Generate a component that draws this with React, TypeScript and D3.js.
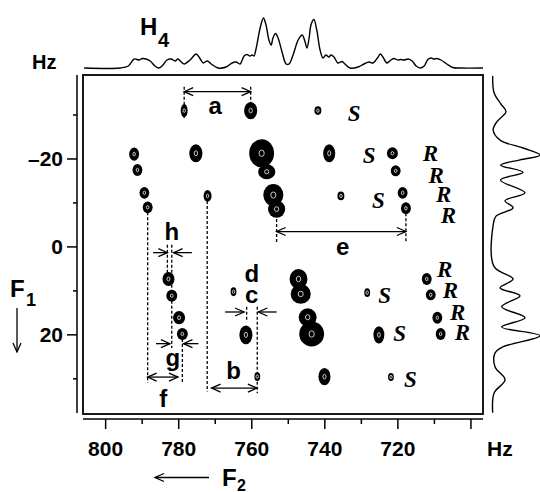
import React from 'react';
import * as d3 from 'd3';

// ---------- data ----------
const xMajorTicks = [800, 780, 760, 740, 720, 700];
const xMinorTicks = [790, 770, 750, 730, 710];
const xTickLabels = ['800', '780', '760', '740', '720', ''];
const yMajorTicks = [-20, 0, 20];
const yMinorTicks = [-30, -10, 10, 30];
const yTickLabels = ['\u201320', '0', '20'];

// 2D cross peaks: F2 (Hz), F1 (Hz), linewidths in Hz
const peakF2 = [778.5, 760.3, 741.9, 792.2, 791.3, 789.4, 788.5, 775.3, 772.1, 757.3, 755.9, 754.1, 753.2, 738.8, 735.6, 721.5, 720.6, 718.7, 717.8,
  782.8, 781.9, 779.9, 779.0, 765.0, 761.6, 758.5, 747.2, 746.6, 744.7, 743.6, 740.1, 728.4, 725.2, 721.9, 712.1, 711.0, 709.2, 708.3];
const peakF1 = [-31.0, -31.0, -31.0, -21.1, -17.5, -12.3, -9.0, -21.3, -11.6, -21.3, -17.1, -11.8, -8.6, -21.3, -11.6, -21.3, -17.3, -12.3, -8.8,
  7.3, 11.1, 16.1, 19.8, 10.2, 20.0, 29.5, 7.3, 10.7, 16.0, 19.8, 29.5, 10.4, 20.0, 29.6, 7.3, 10.9, 16.1, 19.8];
const peakWF2 = [1.9, 3.6, 1.9, 2.7, 2.7, 2.7, 2.7, 3.6, 2.2, 6.8, 4.7, 5.5, 4.7, 3.3, 1.9, 3.0, 2.7, 2.7, 2.7,
  3.3, 3.0, 3.3, 3.0, 1.6, 3.6, 1.6, 4.9, 5.5, 4.9, 6.8, 3.3, 1.6, 3.0, 1.6, 2.7, 2.7, 2.7, 2.7];
const peakWF1 = [3.0, 3.9, 2.0, 3.0, 2.7, 2.7, 2.7, 4.1, 2.7, 6.4, 3.4, 5.0, 3.9, 4.1, 2.0, 2.7, 2.5, 2.7, 2.7,
  3.2, 2.7, 3.0, 2.7, 2.0, 4.3, 2.0, 4.5, 4.5, 4.1, 5.7, 3.9, 2.0, 3.9, 1.8, 2.7, 2.5, 2.7, 2.7];

// R / S labels
const rsText = ['S', 'S', 'S', 'R', 'R', 'R', 'R', 'R', 'R', 'R', 'R', 'S', 'S', 'S'];
const rsF2 = [733.7, 729.6, 727.1, 713.2, 711.6, 709.6, 708.3, 709.3, 707.7, 705.7, 704.4, 725.4, 721.3, 718.3];
const rsF1 = [-28.6, -19.1, -8.9, -19.5, -14.5, -10.2, -5.5, 6.75, 11.6, 16.6, 21.1, 12.7, 21.5, 31.75];

// letter labels
const letText = ['a', 'h', 'd', 'c', 'g', 'b', 'f', 'e'];
const letF2 = [770.0, 781.9, 760.0, 760.0, 781.6, 765.0, 784.2, 735.1];
const letF1 = [-30.2, -1.6, 7.9, 12.8, 27.0, 30.0, 36.3, 1.8];

// double-headed arrows: [F2 from, F2 to, F1]
const dblFrom = [778.5, 753.2, 788.5, 771.0];
const dblTo = [760.3, 717.8, 780.2, 758.6];
const dblF1 = [-35.3, -3.5, 29.6, 32.1];

// single arrows (tail -> tip)
const sglFrom = [787.0, 776.4, 786.2, 774.6, 767.3, 753.2];
const sglTo = [783.1, 781.4, 782.4, 778.7, 762.1, 758.2];
const sglF1 = [1.3, 1.3, 22.0, 22.0, 14.8, 14.8];

// dashed guide lines
const dashF2 = [778.5, 760.3, 753.2, 717.8, 788.5, 779.0, 783.1, 781.9, 781.9, 772.2, 761.4, 758.5];
const dashF1a = [-36.4, -36.4, -8.6, -8.8, -9.0, 19.8, -0.5, -0.5, 11.1, -11.6, 13.6, 13.6];
const dashF1b = [-29.3, -29.3, -0.9, -0.9, 30.9, 30.9, 7.3, 11.1, 23.0, 32.9, 17.0, 33.3];

// projections
const topHz = [805.9, 796.0, 793.8, 792.2, 790.8, 790.0, 788.9, 787.8, 786.5, 785.4, 784.3, 783.2, 782.1, 781.0, 780.2, 779.3, 778.5, 776.9, 775.2, 774.1,
  773.3, 772.2, 771.1, 769.2, 767.0, 765.4, 764.3, 763.2, 762.1, 761.3, 760.5, 759.9, 759.4, 758.9, 757.7, 756.8, 756.1, 755.3, 754.7, 754.2,
  753.5, 752.8, 751.7, 750.6, 749.8, 748.7, 747.3, 746.2, 745.4, 744.9, 744.3, 743.8, 743.0, 742.2, 741.3, 740.5, 739.7, 738.9, 738.3, 737.5,
  736.4, 735.3, 734.5, 733.1, 730.9, 729.3, 727.9, 726.8, 725.4, 724.8, 724.1, 723.0, 721.9, 721.1, 720.0, 719.2, 718.3, 717.2, 716.1, 715.0,
  713.9, 712.8, 711.8, 710.9, 710.1, 709.3, 708.2, 706.6, 705.0, 703.0, 696.7];
const topInt = [0, 0, 0.04, 0.18, 0.16, 0.19, 0.18, 0.14, 0.04, 0, 0.06, 0.16, 0.18, 0.14, 0.18, 0.12, 0.08, 0.16, 0.28, 0.18,
  0.10, 0.14, 0.08, 0, 0.02, 0.10, 0.12, 0.08, 0.24, 0.27, 0.24, 0.26, 0.24, 0.36, 0.80, 1.0, 0.86, 0.56, 0.46, 0.60,
  0.69, 0.60, 0.32, 0.08, 0.08, 0.26, 0.56, 0.66, 0.52, 0.40, 0.60, 0.86, 0.97, 0.76, 0.36, 0.20, 0.26, 0.22, 0.26, 0.22,
  0.10, 0.13, 0.08, 0, 0.02, 0.08, 0.12, 0.10, 0.22, 0.28, 0.22, 0.10, 0.16, 0.19, 0.16, 0.17, 0.16, 0.18, 0.14, 0.04,
  0, 0.04, 0.17, 0.20, 0.18, 0.19, 0.16, 0.08, 0.01, 0, 0];

const sideF1 = [-38.9, -35.0, -32.5, -30.75, -28.5, -26.6, -24.3, -22.5, -20.9, -19.8, -18.6, -17.0, -15.2, -12.3, -10.5, -8.9, -7.0, -5.0,
  4.5, 7.3, 9.3, 11.1, 13.6, 16.1, 18.2, 20.2, 22.7, 24.1, 27.3, 30.2, 33.2, 37.7];
const sideInt = [0, 0.03, 0.175, 0.28, 0.09, 0.01, 0.155, 0.64, 1.0, 0.577, 0.17, 0.64, 0.166, 0.683, 0.26, 0.43, 0.07, 0.01,
  0.03, 0.43, 0.155, 0.577, 0.19, 0.683, 0.19, 1.0, 0.22, 0.05, 0.05, 0.26, 0.03, 0];

// ---------- drawing ----------
const SANS = '"Liberation Sans", Arial, Helvetica, sans-serif';
const SERIF = '"Liberation Serif", "Times New Roman", serif';

const box = { left: 83, right: 483, top: 75, bottom: 414 };

export default function App() {
  const x = d3.scaleLinear().domain([806.2, 696.7]).range([box.left, box.right]);
  const y = d3.scaleLinear().domain([-39.1, 38.0]).range([box.top, box.bottom]);
  const pxPerHz = Math.abs(x(1) - x(0));
  const pxPerF1 = Math.abs(y(1) - y(0));
  const topY = d3.scaleLinear().domain([0, 1]).range([68, 18]);
  const sideX = d3.scaleLinear().domain([0, 1]).range([492.7, 540]);

  const topLine = d3.line<number>()
    .x((_, i) => x(topHz[i]))
    .y((d) => topY(d))
    .curve(d3.curveCatmullRom.alpha(0.5))(topInt) || '';
  const sideLine = d3.line<number>()
    .x((d) => sideX(d))
    .y((_, i) => y(sideF1[i]))
    .curve(d3.curveCatmullRom.alpha(0.5))(sideInt) || '';

  const head = (tx: number, ty: number, dir: number, key: string) => (
    <path key={key} d={`M${tx - dir * 9},${ty - 4}L${tx},${ty}L${tx - dir * 9},${ty + 4}`}
      fill="none" stroke="#000" strokeWidth={1.3} />
  );

  const axisY = box.bottom + 5;
  const axisX = box.left - 6;

  return (
    <svg width={540} height={492} style={{ position: 'absolute', left: 0, top: 0, background: '#fff' }}>
      {/* top projection */}
      <path d={topLine} fill="none" stroke="#000" strokeWidth={1.4} />
      {/* side projection */}
      <path d={sideLine} fill="none" stroke="#000" strokeWidth={1.4} />

      {/* frame */}
      <rect x={box.left} y={box.top} width={box.right - box.left} height={box.bottom - box.top}
        fill="none" stroke="#000" strokeWidth={1.8} />

      {/* bottom axis */}
      <line x1={box.left} x2={box.right} y1={axisY} y2={axisY} stroke="#000" strokeWidth={1.5} />
      {xMajorTicks.map((t, i) => (
        <g key={'xt' + t}>
          <line x1={x(t)} x2={x(t)} y1={axisY} y2={axisY + 10} stroke="#000" strokeWidth={1.5} />
          <text x={x(t)} y={456} textAnchor="middle" fontFamily={SANS} fontWeight="bold" fontSize={21}>{xTickLabels[i]}</text>
        </g>
      ))}
      {xMinorTicks.map((t) => (
        <line key={'xm' + t} x1={x(t)} x2={x(t)} y1={axisY} y2={axisY + 5} stroke="#000" strokeWidth={1.5} />
      ))}
      <text x={487} y={456} fontFamily={SANS} fontWeight="bold" fontSize={21}>Hz</text>

      {/* left axis */}
      <line x1={axisX} x2={axisX} y1={box.top} y2={box.bottom - 1} stroke="#000" strokeWidth={1.5} />
      {yMajorTicks.map((t, i) => (
        <g key={'yt' + t}>
          <line x1={axisX - 10} x2={axisX} y1={y(t)} y2={y(t)} stroke="#000" strokeWidth={1.5} />
          <text x={63} y={y(t) + 7.5} textAnchor="end" fontFamily={SANS} fontWeight="bold" fontSize={21}>{yTickLabels[i]}</text>
        </g>
      ))}
      {yMinorTicks.map((t) => (
        <line key={'ym' + t} x1={axisX - 4} x2={axisX} y1={y(t)} y2={y(t)} stroke="#000" strokeWidth={1.5} />
      ))}

      {/* axis titles */}
      <text x={32} y={69} fontFamily={SANS} fontWeight="bold" fontSize={20}>Hz</text>
      <text x={140} y={35} fontFamily={SANS} fontWeight="bold" fontSize={24}>H</text>
      <text x={158} y={47} fontFamily={SANS} fontWeight="bold" fontSize={20}>4</text>
      <line x1={209} x2={155} y1={477.5} y2={477.5} stroke="#000" strokeWidth={1.3} />
      {head(155, 477.5, -1, 'f2a')}
      <text x={222} y={486} fontFamily={SANS} fontWeight="bold" fontSize={24}>F</text>
      <text x={237} y={491} fontFamily={SANS} fontWeight="bold" fontSize={16}>2</text>
      <text x={10} y={297} fontFamily={SANS} fontWeight="bold" fontSize={24}>F</text>
      <text x={26} y={306} fontFamily={SANS} fontWeight="bold" fontSize={18}>1</text>
      <line x1={17} x2={17} y1={308} y2={352} stroke="#000" strokeWidth={1.3} />
      <path d="M13,343L17,352L21,343" fill="none" stroke="#000" strokeWidth={1.3} />

      {/* dashed guides */}
      {dashF2.map((h, i) => (
        <line key={'ds' + i} x1={x(h)} x2={x(h)} y1={y(dashF1a[i])} y2={y(dashF1b[i])}
          stroke="#000" strokeWidth={1.3} strokeDasharray="3,2" />
      ))}

      {/* peaks */}
      {peakF2.map((h, i) => {
        const rx = (peakWF2[i] * pxPerHz) / 2;
        const ry = (peakWF1[i] * pxPerF1) / 2;
        return (
          <g key={'pk' + i}>
            <ellipse cx={x(h)} cy={y(peakF1[i])} rx={rx} ry={ry} fill="#000" />
            <ellipse cx={x(h)} cy={y(peakF1[i])} rx={Math.max(1.2, Math.min(2.6, rx * 0.25))} ry={Math.max(1.7, Math.min(3.2, ry * 0.28))}
              fill="none" stroke="#ddd" strokeWidth={0.9} />
          </g>
        );
      })}

      {/* double arrows */}
      {dblFrom.map((a, i) => {
        const x1 = x(a), x2 = x(dblTo[i]), yy = y(dblF1[i]);
        const dir = x2 > x1 ? 1 : -1;
        return (
          <g key={'da' + i}>
            <line x1={x1} x2={x2} y1={yy} y2={yy} stroke="#000" strokeWidth={1.3} />
            {head(x2, yy, dir, 'h2')}
            {head(x1, yy, -dir, 'h1')}
          </g>
        );
      })}
      {/* single arrows */}
      {sglFrom.map((a, i) => {
        const x1 = x(a), x2 = x(sglTo[i]), yy = y(sglF1[i]);
        const dir = x2 > x1 ? 1 : -1;
        return (
          <g key={'sa' + i}>
            <line x1={x1} x2={x2} y1={yy} y2={yy} stroke="#000" strokeWidth={1.3} />
            {head(x2, yy, dir, 'h')}
          </g>
        );
      })}

      {/* letter labels */}
      {letText.map((t, i) => (
        <text key={'lt' + i} x={x(letF2[i])} y={y(letF1[i])} textAnchor="middle"
          fontFamily={SANS} fontWeight="bold" fontSize={24}>{t}</text>
      ))}
      {/* R / S labels */}
      {rsText.map((t, i) => (
        <text key={'rs' + i} x={x(rsF2[i])} y={y(rsF1[i])} fontFamily={SERIF} fontStyle="italic"
          fontWeight="bold" fontSize={23}>{t}</text>
      ))}
    </svg>
  );
}
